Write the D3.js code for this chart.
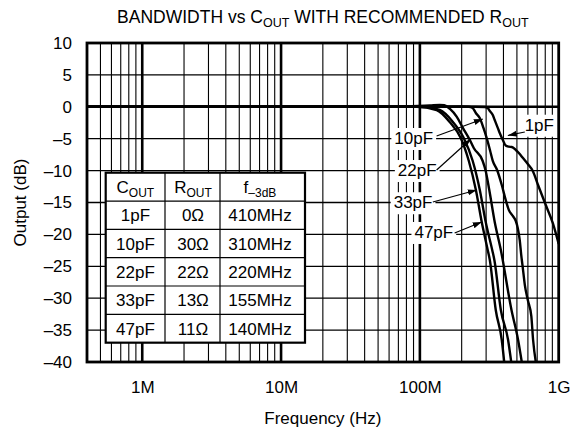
<!DOCTYPE html>
<html><head><meta charset="utf-8">
<script src="https://cdn.jsdelivr.net/npm/d3@7"></script>
<style>
body{margin:0;background:#fff}
svg{display:block;font-family:"Liberation Sans",Arial,Helvetica,sans-serif}
</style></head><body>
<svg id="chart" width="574" height="430"></svg>
<script>
// ---------- data ----------
const xTickValues = [1e6, 1e7, 1e8, 1e9];
const xTickLabels = ["1M", "10M", "100M", "1G"];
const yTickValues = [10, 5, 0, -5, -10, -15, -20, -25, -30, -35, -40];
const yTickLabels = ["10", "5", "0", "\u20135", "\u201310", "\u201315", "\u201320", "\u201325", "\u201330", "\u201335", "\u201340"];

// [frequency MHz, output dB]
const curve1pF = [[0.4,0],[100,0],[250,0],[293,-0.03],[308,-0.19],[319,-0.66],[335,-1.29],[346,-2.07],[364,-3.3],[376,-4.1],[396,-5.2],[415,-6.07],[437,-6.25],[459,-6.3],[491,-6.77],[524,-7.4],[551,-8.0],[599,-8.97],[651,-10.06],[710,-12.26],[807,-15.4],[906,-18.2],[1000,-21.5]];
const curve10pF = [[0.4,0],[100,0],[200,0.05],[225,0],[240,-0.19],[253,-0.97],[270,-1.76],[287,-3.3],[303,-4.9],[320,-6.8],[335,-8.46],[360,-9.9],[389,-12.26],[415,-14.6],[437,-16.15],[467,-17.1],[491,-17.9],[507,-19.0],[524,-20.9],[537,-23.2],[551,-25.2],[570,-27.9],[599,-30.3],[635,-32.8],[654,-36.55],[684,-40]];
const curve22pF = [[0.4,0],[50,0],[72,0.05],[118,0.2],[139,0.3],[150,0.25],[164,-0.3],[184,-1.55],[204,-3.3],[229,-5.2],[245,-6.5],[283,-8.46],[298,-10.06],[316,-13.0],[346,-18.06],[383,-22.44],[457,-31.85],[510,-36.55],[542,-40]];
const curve33pF = [[0.4,0],[50,0],[100,0],[108,-0.05],[139,-0.5],[173,-2.38],[207,-4.89],[240,-8.46],[270,-13.0],[298,-18.06],[332,-22.44],[344,-24.0],[383,-31.85],[432,-36.55],[455,-40]];
const curve47pF = [[0.4,0],[50,0],[95,0],[132,-0.5],[164,-2.38],[197,-4.89],[225,-8.46],[253,-13.0],[279,-18.06],[308,-22.44],[319,-24.0],[352,-31.85],[389,-36.55],[405,-40]];
const curves = [curve1pF, curve10pF, curve22pF, curve33pF, curve47pF];

// curve labels: text, text position (MHz, dB baseline), arrow start, arrow tip
const labelText = ["1pF", "10pF", "22pF", "33pF", "47pF"];
const labelPos = [[725,-3.75],[90.3,-5.83],[95.7,-10.85],[89.3,-15.9],[126,-20.56]];
const arrowFrom = [[570,-3.95],[132,-4.58],[132,-9.9],[124,-14.92],[178,-19.78]];
const arrowTo = [[430,-4.5],[284,-1.91],[233,-5.05],[257,-13.04],[279,-18.06]];

// table
const tableCout = ["1pF", "10pF", "22pF", "33pF", "47pF"];
const tableRout = ["0\u03A9", "30\u03A9", "22\u03A9", "13\u03A9", "11\u03A9"];
const tableF3dB = ["410MHz", "310MHz", "220MHz", "155MHz", "140MHz"];

// ---------- chart ----------
const svg = d3.select("#chart");
const L = 87, R = 558.7, T = 43, B = 362;
const x = d3.scaleLog().domain([4e5, 1e9]).range([L, R]);
const y = d3.scaleLinear().domain([-40, 10]).range([B, T]);
const FS = 17;

// grid
const grid = svg.append("g");
const allTicks = x.ticks().filter(f => f > 4e5 * 1.001 && f < 1e9 * 0.999);
const isDecade = f => Math.abs(Math.log10(f) - Math.round(Math.log10(f))) < 1e-6;
grid.selectAll("line.v").data(allTicks).join("line")
  .attr("x1", d => x(d)).attr("x2", d => x(d)).attr("y1", T).attr("y2", B)
  .attr("stroke", "#000").attr("stroke-width", d => isDecade(d) ? 2.6 : 1.1);
grid.selectAll("line.h").data(yTickValues.filter(v => v > -40 && v < 10)).join("line")
  .attr("x1", L).attr("x2", R).attr("y1", d => y(d)).attr("y2", d => y(d))
  .attr("stroke", "#000").attr("stroke-width", d => d === 0 ? 2.6 : 1.3);

// curves
const line = d3.line().x(d => x(d[0] * 1e6)).y(d => y(d[1])).curve(d3.curveMonotoneX);
svg.append("defs").append("clipPath").attr("id", "clip")
  .append("rect").attr("x", L).attr("y", T).attr("width", R - L).attr("height", B - T);
svg.append("g").attr("clip-path", "url(#clip)")
  .selectAll("path").data(curves).join("path")
  .attr("d", line).attr("fill", "none").attr("stroke", "#000")
  .attr("stroke-width", 2.4).attr("stroke-linejoin", "round");

// frame
svg.append("rect").attr("x", L).attr("y", T).attr("width", R - L).attr("height", B - T)
  .attr("fill", "none").attr("stroke", "#000").attr("stroke-width", 2.8);

// labels
const defs = svg.select("defs");
defs.append("marker").attr("id", "ah").attr("viewBox", "0 -4 9 8")
  .attr("refX", 9).attr("refY", 0).attr("markerWidth", 9).attr("markerHeight", 8)
  .attr("markerUnits", "userSpaceOnUse").attr("orient", "auto")
  .append("path").attr("d", "M0,-3L9,0L0,3Z").attr("fill", "#000");
const lab = svg.append("g");
labelText.forEach((t, i) => {
  const g = lab.append("g");
  const bg = g.append("rect").attr("fill", "#fff");
  const tx = g.append("text").attr("x", x(labelPos[i][0] * 1e6)).attr("y", y(labelPos[i][1]))
    .attr("text-anchor", "middle").attr("font-size", FS).text(t);
  const bb = tx.node().getBBox();
  bg.attr("x", bb.x - 3).attr("y", bb.y - 1).attr("width", bb.width + 6).attr("height", bb.height + 3);
  g.append("line")
    .attr("x1", x(arrowFrom[i][0] * 1e6)).attr("y1", y(arrowFrom[i][1]))
    .attr("x2", x(arrowTo[i][0] * 1e6)).attr("y2", y(arrowTo[i][1]))
    .attr("stroke", "#000").attr("stroke-width", 1.2).attr("marker-end", "url(#ah)");
});

// axes
const xAxis = svg.append("g").attr("transform", `translate(0,${B})`)
  .call(d3.axisBottom(x).tickValues(xTickValues).tickFormat((d, i) => xTickLabels[i]).tickSize(0).tickPadding(19));
xAxis.select(".domain").remove();
xAxis.selectAll("text").attr("font-size", FS).attr("font-family", null).attr("fill", "#000");
const yAxis = svg.append("g").attr("transform", `translate(${L},0)`)
  .call(d3.axisLeft(y).tickValues(yTickValues).tickFormat((d, i) => yTickLabels[i]).tickSize(0).tickPadding(15));
yAxis.select(".domain").remove();
yAxis.selectAll("text").attr("font-size", FS).attr("font-family", null).attr("fill", "#000");

svg.append("text").attr("x", (L + R) / 2).attr("y", 424).attr("text-anchor", "middle")
  .attr("font-size", FS).text("Frequency (Hz)");
svg.append("text").attr("transform", `translate(26,${(T + B) / 2}) rotate(-90)`)
  .attr("text-anchor", "middle").attr("font-size", FS).text("Output (dB)");

// title
const title = svg.append("text").attr("x", (L + R) / 2).attr("y", 23).attr("text-anchor", "middle").attr("font-size", 17.5);
title.append("tspan").text("BANDWIDTH vs C");
title.append("tspan").attr("dy", 4).attr("font-size", 12.5).text("OUT");
title.append("tspan").attr("dy", -4).text(" WITH RECOMMENDED R");
title.append("tspan").attr("dy", 4).attr("font-size", 12.5).text("OUT");

// table
const colX = [105.7, 165, 220, 305];
const tTop = 172.7, rowH = 28.33, nRows = 6;
const tb = svg.append("g");
tb.append("rect").attr("x", colX[0]).attr("y", tTop).attr("width", colX[3] - colX[0]).attr("height", rowH * nRows)
  .attr("fill", "#fff").attr("stroke", "#000").attr("stroke-width", 2.2);
[1, 2].forEach(c => tb.append("line").attr("x1", colX[c]).attr("x2", colX[c]).attr("y1", tTop).attr("y2", tTop + rowH * nRows)
  .attr("stroke", "#000").attr("stroke-width", 1.2));
d3.range(1, nRows).forEach(r => tb.append("line").attr("x1", colX[0]).attr("x2", colX[3])
  .attr("y1", tTop + r * rowH).attr("y2", tTop + r * rowH).attr("stroke", "#000").attr("stroke-width", 1.2));
const colC = [135.4, 193, 260];
const hdr = [["C", "OUT"], ["R", "OUT"], ["f", "\u20133dB"]];
hdr.forEach((h, c) => {
  const t = tb.append("text").attr("x", colC[c]).attr("y", tTop + rowH / 2 + 6).attr("text-anchor", "middle").attr("font-size", FS);
  t.append("tspan").text(h[0]);
  t.append("tspan").attr("dy", 4).attr("font-size", 12).text(h[1]);
});
[tableCout, tableRout, tableF3dB].forEach((col, c) => {
  col.forEach((v, r) => tb.append("text").attr("x", colC[c]).attr("y", tTop + (r + 1.5) * rowH + 6)
    .attr("text-anchor", "middle").attr("font-size", FS).text(v));
});
</script>
</body></html>
